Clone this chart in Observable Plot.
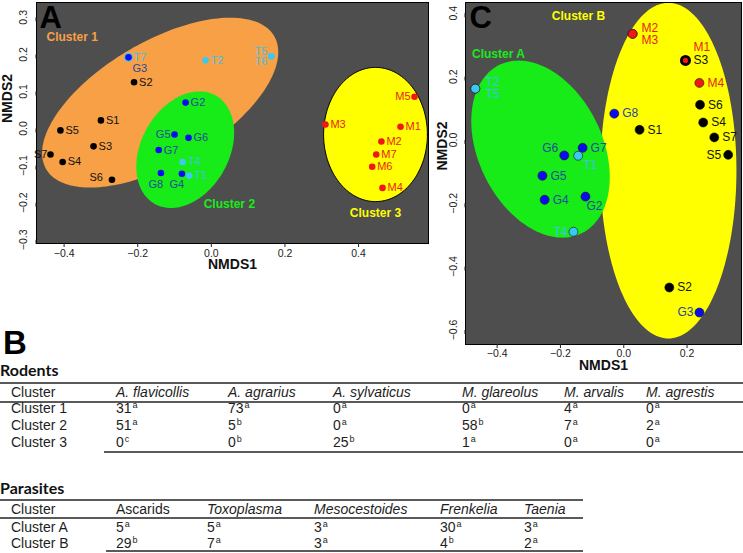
<!DOCTYPE html>
<html><head><meta charset="utf-8">
<script src="https://cdn.jsdelivr.net/npm/d3@7"></script>
<script src="https://cdn.jsdelivr.net/npm/@observablehq/plot@0.6"></script>
<style>
body{margin:0;background:#fff;font-family:"Liberation Sans",Arial,sans-serif;}
#root{position:relative;width:743px;height:553px;overflow:hidden;background:#fff;}
#pa{position:absolute;left:0;top:0;}
#pc{position:absolute;left:420px;top:0;}
.t{position:absolute;white-space:nowrap;font-size:14px;line-height:14px;height:14px;color:#1e1e1e;}
.t sup{font-size:9px;vertical-align:baseline;position:relative;top:-5px;margin-left:1px;}
.rule{position:absolute;background:#5a5a5a;}
.ttl{position:absolute;font-family:Lato,"Open Sans",sans-serif;font-weight:bold;font-size:16px;line-height:16px;color:#111;}
</style>
</head><body><div id="root"><div id="pa"></div><div id="pc"></div></div>
<script>
// ---------- Panel A data ----------
const aNames = ["S1","S2","S3","S4","S5","S6","S7","T7","G3","G2","G4","G5","G6","G7","G8","T1","T2","T4","T5","T6","M1","M2","M3","M4","M5","M6","M7"];
const aX = [-0.300,-0.210,-0.320,-0.404,-0.410,-0.270,-0.437,-0.225,-0.225,-0.070,-0.080,-0.100,-0.062,-0.143,-0.137,-0.060,-0.016,-0.078,0.163,0.163,0.514,0.462,0.310,0.465,0.552,0.437,0.448];
const aY = [0.022,0.125,-0.048,-0.090,-0.005,-0.138,-0.070,0.192,0.192,0.070,-0.122,-0.016,-0.025,-0.058,-0.120,-0.127,0.184,-0.090,0.195,0.195,0.005,-0.035,0.011,-0.160,0.086,-0.103,-0.070];
const aXTicks = [-0.4,-0.2,0.0,0.2,0.4];
const aYTicks = [-0.3,-0.2,-0.1,0.0,0.1,0.2,0.3];
const aClusterNames = ["Cluster 1","Cluster 2","Cluster 3"];
const aClusterX = [-0.378,0.049,0.446];
const aClusterY = [0.246,-0.205,-0.227];
const aEllCx = [-0.139,-0.071,0.446];
const aEllCy = [0.070,-0.057,-0.016];
const aEllA = [0.358,0.168,0.141];
const aEllB = [0.165,0.119,0.181];
const aEllAngle = [30,60,0];

// ---------- Panel C data ----------
const cNames = ["T2","T5","M2","M3","S3","M1","M4","S6","S4","S7","S5","G8","S1","G6","G7","T1","G5","G4","G2","T4","S2","G3"];
const cX = [-0.469,-0.469,0.028,0.028,0.195,0.195,0.239,0.241,0.251,0.286,0.330,-0.030,0.050,-0.188,-0.130,-0.144,-0.257,-0.250,-0.121,-0.159,0.144,0.239];
const cY = [0.162,0.162,0.335,0.335,0.251,0.251,0.180,0.111,0.055,0.008,-0.047,0.083,0.032,-0.049,-0.025,-0.050,-0.113,-0.189,-0.179,-0.290,-0.466,-0.545];
const cXTicks = [-0.4,-0.2,0.0,0.2];
const cYTicks = [-0.6,-0.4,-0.2,0.0,0.2,0.4];
const cClusterNames = ["Cluster A","Cluster B"];
const cClusterX = [-0.396,-0.143];
const cClusterY = [0.272,0.392];
const cEllCx = [-0.263,0.141];
const cEllCy = [-0.029,-0.097];
const cEllA = [0.296,0.215];
const cEllB = [0.196,0.530];
const cEllAngle = [-64,0];

// ---------- Table data ----------
const rodentHeader = ["Cluster","A. flavicollis","A. agrarius","A. sylvaticus","M. glareolus","M. arvalis","M. agrestis"];
const rodentClusters = ["Cluster 1","Cluster 2","Cluster 3"];
const rodentValues = [[31,73,0,0,4,0],[51,5,0,58,7,2],[0,0,25,1,0,0]];
const rodentLetters = [["a","a","a","a","a","a"],["a","b","a","b","a","a"],["c","b","b","a","a","a"]];
const parasiteHeader = ["Cluster","Ascarids","Toxoplasma","Mesocestoides","Frenkelia","Taenia"];
const parasiteItalic = [false,false,true,true,true,true];
const parasiteClusters = ["Cluster A","Cluster B"];
const parasiteValues = [[5,5,3,30,3],[29,7,3,4,2]];
const parasiteLetters = [["a","a","a","a","a"],["b","a","a","b","a"]];

// ---------- styles ----------
const dotFill = {S:"#000000",G:"#0b0bef",T:"#3cc8f0",M:"#f21616"};
const labFill = {S:"#111111",G:"#1f4a9c",T:"#40c2e6",M:"#e81c1c"};
const fmt = d3.format(".1f");
const font = "Liberation Sans, Arial, sans-serif";

function pts(names, xs, ys){ return names.map((n,i)=>({name:n, x:xs[i], y:ys[i], g:n[0]})); }
function ellipse(cx, cy, a, b, deg){
  const t = deg*Math.PI/180, c = Math.cos(t), s = Math.sin(t);
  return d3.range(181).map(i => { const u = 2*Math.PI*i/180, ex = a*Math.cos(u), ey = b*Math.sin(u);
    return {x: cx + ex*c - ey*s, y: cy + ex*s + ey*c}; });
}
function labelMarks(data, pos, def, fs){
  return data.map(d => { const p = pos[d.name] || def;
    return Plot.text([d], {x:"x", y:"y", text:"name", fill: labFill[d.g], textAnchor:p[0], dx:p[1], dy:p[2], fontSize:fs}); });
}

const A = pts(aNames, aX, aY);
const aLabelPos = {S6:["end",-9,-2], S7:["end",-3,0], G5:["end",-4,0], G8:["middle",-5,11], G4:["middle",-5,11],
  G3:["start",4,11], T5:["end",-4,-5], T6:["end",-4,5], M5:["end",-4,0]};
const aEllColors = ["#f8a046","#18ec18","#ffff00"];
const aEllStroke = ["none","none","#000"];

const plotA = Plot.plot({
  width: 432, height: 282, marginLeft: 36, marginRight: 4, marginTop: 2, marginBottom: 39,
  x: {domain: [-0.475, 0.59]}, y: {domain: [-0.31, 0.34]},
  style: {fontFamily: font, color: "#222", background: "transparent", overflow: "visible"},
  marks: [
    Plot.frame({fill: "#4e4e4e"}),
    ...aEllCx.map((cx,i) => Plot.line(ellipse(cx, aEllCy[i], aEllA[i], aEllB[i], aEllAngle[i]),
      {x:"x", y:"y", fill: aEllColors[i], stroke: aEllStroke[i], strokeWidth: 1, curve: "linear-closed", clip: true})),
    Plot.dot(A.filter(d => d.name === "T7"), {x:"x", y:"y", r:4.5, fill: dotFill.T}),
    Plot.dot(A.filter(d => d.name !== "T7"), {x:"x", y:"y", r:3.3, fill: d => dotFill[d.g]}),
    ...labelMarks(A, aLabelPos, ["start",5,0], 11),
    Plot.text(aClusterNames, {x:(d,i)=>aClusterX[i], y:(d,i)=>aClusterY[i], text: d=>d, fill:(d,i)=>["#f8a046","#18ec18","#ffff00"][i], fontWeight:"bold", fontSize:12}),
    Plot.text(["A"], {frameAnchor:"top-left", dx:3, dy:3, text:d=>d, textAnchor:"start", lineAnchor:"top", fontSize:31, fontWeight:"bold", fill:"#000"}),
    Plot.frame({stroke: "#000", strokeWidth: 1}),
    Plot.axisX({ticks: aXTicks, tickFormat: fmt, tickSize: 4, tickPadding: 2, fontSize: 10.5, label: null}),
    Plot.axisY({ticks: aYTicks, tickFormat: fmt, tickSize: 4, tickPadding: 6, fontSize: 10.5, rotate: -90, textAnchor: "middle", lineAnchor: "bottom", label: null}),
    Plot.text(["NMDS1"], {frameAnchor:"bottom", dy: 25, text:d=>d, fontWeight:"bold", fontSize:14, fill:"#111"}),
    Plot.text(["NMDS2"], {frameAnchor:"left", dx:-29, text:d=>d, rotate:-90, fontWeight:"bold", fontSize:14, fill:"#111"})
  ]
});
document.getElementById("pa").appendChild(plotA);

const C = pts(cNames, cX, cY);
const cLabelPos = {T2:["start",10,-6], T5:["start",10,6], M2:["start",9,-6], M3:["start",9,6], M1:["start",8,-13],
  S5:["end",-7,0], G6:["end",-6,-7], T1:["start",5,9], G2:["start",1,10], T4:["end",-6,0], G3:["end",-6,0]};
const cEllColors = ["#18ec18","#ffff00"];
const cDraw = [1,0];

const plotC = Plot.plot({
  width: 323, height: 378, marginLeft: 45, marginRight: 2, marginTop: 2, marginBottom: 34,
  x: {domain: [-0.50, 0.372]}, y: {domain: [-0.646, 0.434]},
  style: {fontFamily: font, color: "#222", background: "transparent", overflow: "visible"},
  marks: [
    Plot.frame({fill: "#4e4e4e"}),
    ...cDraw.map(i => Plot.line(ellipse(cEllCx[i], cEllCy[i], cEllA[i], cEllB[i], cEllAngle[i]),
      {x:"x", y:"y", fill: cEllColors[i], stroke: "none", curve: "linear-closed", clip: true})),
    Plot.dot(C.filter(d => d.name === "S3"), {x:"x", y:"y", r:5.5, fill:"#000"}),
    Plot.dot(C.filter(d => d.name === "M1"), {x:"x", y:"y", r:2.6, fill: dotFill.M}),
    Plot.dot(C.filter(d => d.name !== "S3" && d.name !== "M1"), {x:"x", y:"y", r:4.5, fill: d => dotFill[d.g], stroke:"#111", strokeWidth:0.6}),
    ...labelMarks(C, cLabelPos, ["start",8,0], 12),
    Plot.text(cClusterNames, {x:(d,i)=>cClusterX[i], y:(d,i)=>cClusterY[i], text:d=>d, fill:(d,i)=>["#18ec18","#ffff00"][i], fontWeight:"bold", fontSize:12}),
    Plot.text(["C"], {frameAnchor:"top-left", dx:4, dy:3, text:d=>d, textAnchor:"start", lineAnchor:"top", fontSize:31, fontWeight:"bold", fill:"#000"}),
    Plot.frame({stroke: "#000", strokeWidth: 1}),
    Plot.axisX({ticks: cXTicks, tickFormat: fmt, tickSize: 4, tickPadding: 1, fontSize: 10.5, label: null}),
    Plot.axisY({ticks: cYTicks, tickFormat: fmt, tickSize: 4, tickPadding: 5, fontSize: 10.5, rotate: -90, textAnchor: "middle", lineAnchor: "bottom", label: null}),
    Plot.text(["NMDS1"], {frameAnchor:"bottom", dy: 25, text:d=>d, fontWeight:"bold", fontSize:14, fill:"#111"}),
    Plot.text(["NMDS2"], {frameAnchor:"left", dx:-23, dy:-3, text:d=>d, rotate:-90, fontWeight:"bold", fontSize:14, fill:"#111"})
  ]
});
document.getElementById("pc").appendChild(plotC);

// ---------- Tables ----------
const root = document.getElementById("root");
function el(cls, html, left, top, extra){ const e = document.createElement("div"); e.className = cls; e.innerHTML = html;
  e.style.left = left + "px"; e.style.top = top + "px"; if (extra) Object.assign(e.style, extra); root.appendChild(e); return e; }
function rule(left, top, w, h){ el("rule", "", left, top, {width: w + "px", height: h + "px"}); }

el("ttl", "B", 3, 326, {fontFamily: font, fontSize: "33px", lineHeight: "33px", color: "#000"});
el("ttl", "Rodents", 0, 362);
el("ttl", "Parasites", 0, 480);

const rodentCols = [11,116,228,333,462,564,646];
rule(0, 382, 743, 2);
rule(0, 401, 743, 1.5);
rule(104, 451, 639, 2);
rodentHeader.forEach((h,j) => el("t", h, rodentCols[j], 385, {fontStyle: j ? "italic" : "normal"}));
rodentClusters.forEach((c,i) => {
  const top = 401 + i*17;
  el("t", c, rodentCols[0], top);
  rodentValues[i].forEach((v,j) => el("t", `${v}<sup>${rodentLetters[i][j]}</sup>`, rodentCols[j+1], top));
});

const parasiteCols = [11,116,207,314,440,524];
rule(0, 499, 583, 2);
rule(0, 517, 583, 1.5);
rule(106, 550, 477, 2);
parasiteHeader.forEach((h,j) => el("t", h, parasiteCols[j], 502, {fontStyle: parasiteItalic[j] ? "italic" : "normal"}));
parasiteClusters.forEach((c,i) => {
  const top = 520 + i*16;
  el("t", c, parasiteCols[0], top);
  parasiteValues[i].forEach((v,j) => el("t", `${v}<sup>${parasiteLetters[i][j]}</sup>`, parasiteCols[j+1], top));
});
</script>
</body></html>
